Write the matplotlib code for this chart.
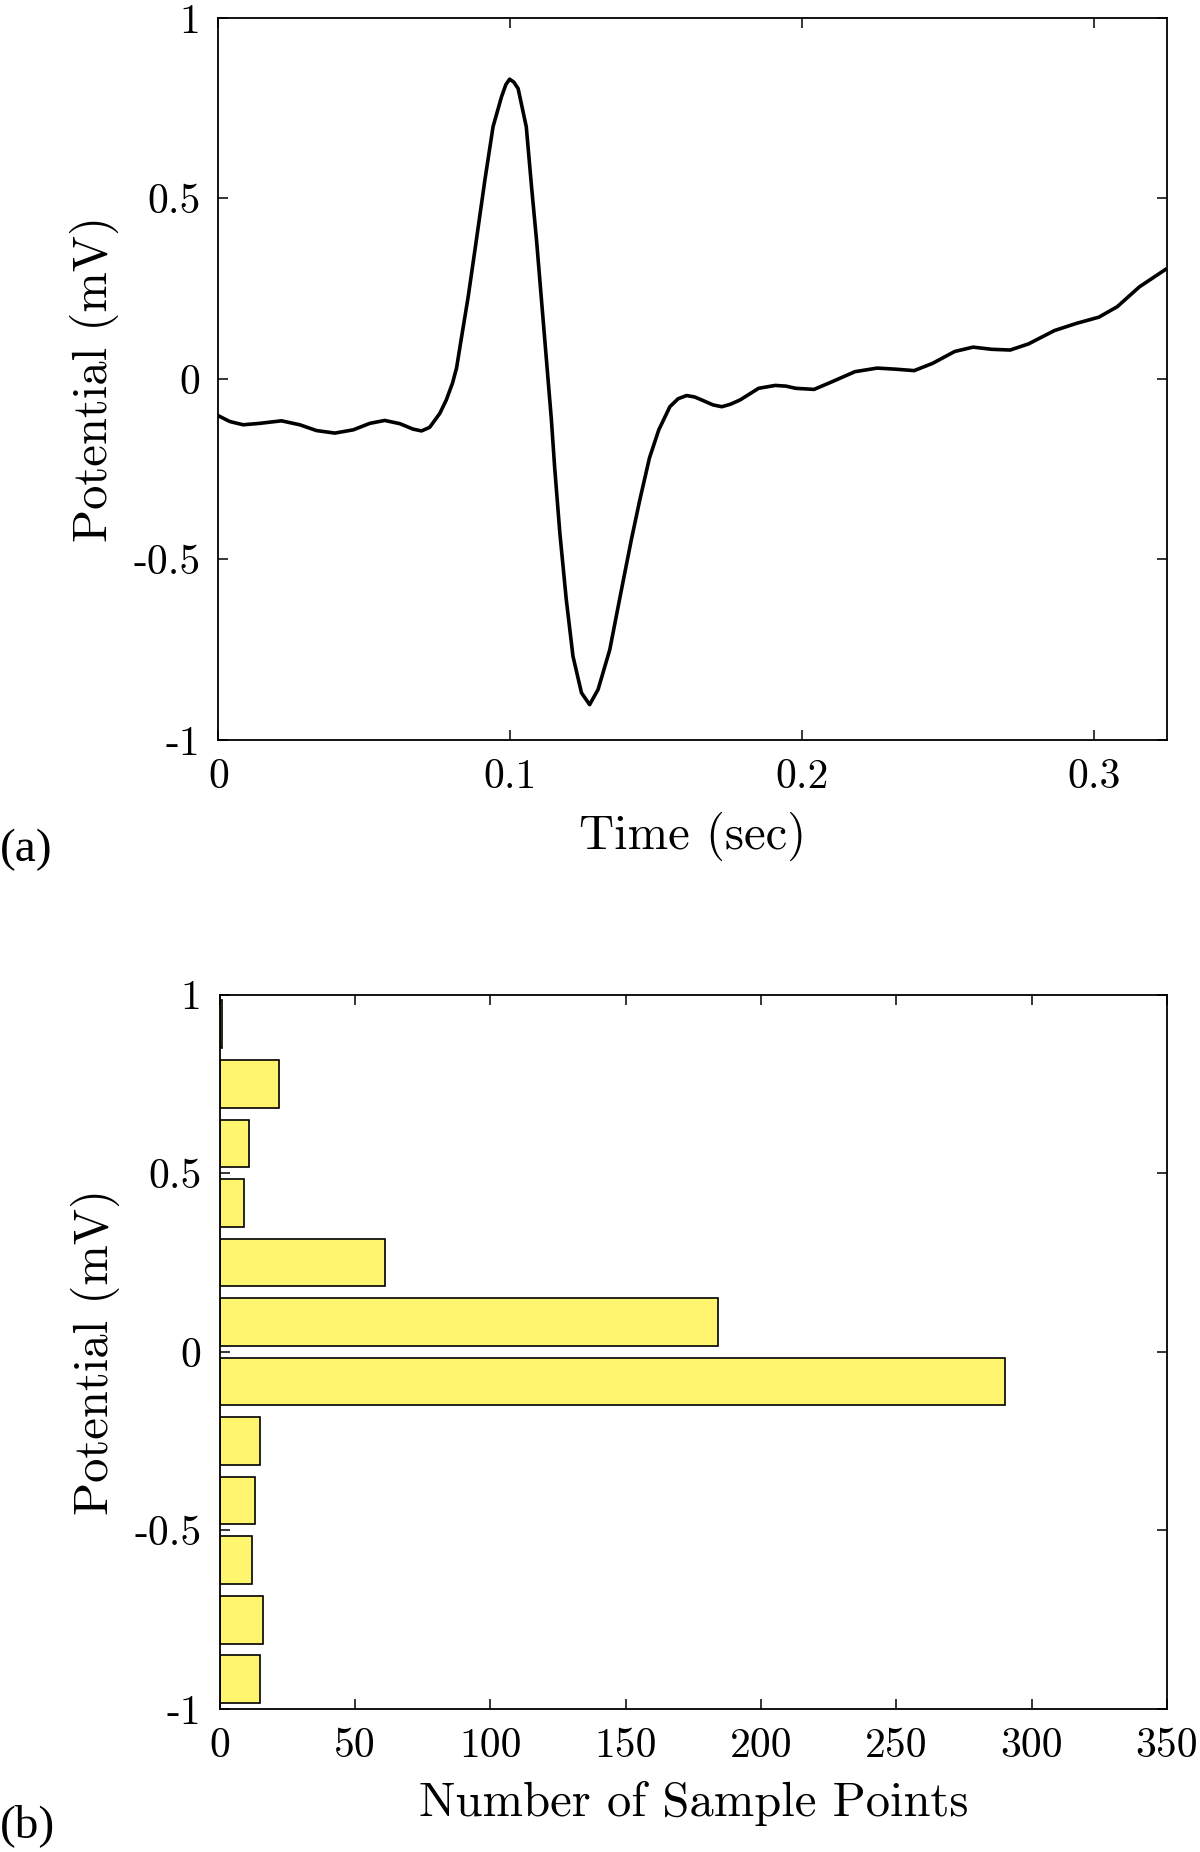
import numpy as np
import matplotlib
matplotlib.use("Agg")
import matplotlib.pyplot as plt

# ---------------- data ----------------
time_s = [0.0, 0.0039, 0.0085, 0.0142, 0.0216, 0.0279, 0.0336, 0.0399, 0.0462,
          0.0519, 0.0570, 0.0622, 0.0667, 0.0696, 0.0724, 0.0759, 0.0781, 0.0802,
          0.0816, 0.0830, 0.0856, 0.0884, 0.0913, 0.0941, 0.0970, 0.0985, 0.0998,
          0.1012, 0.1027, 0.1055, 0.1073, 0.1090, 0.1107, 0.1124, 0.1141, 0.1152,
          0.1170, 0.1192, 0.1215, 0.1244, 0.1272, 0.1301, 0.1341, 0.1381, 0.1415,
          0.1444, 0.1477, 0.1509, 0.1547, 0.1575, 0.1604, 0.1632, 0.1661, 0.1695,
          0.1725, 0.1755, 0.1788, 0.1851, 0.1908, 0.1945, 0.1978, 0.2041, 0.2105,
          0.2181, 0.2257, 0.2320, 0.2384, 0.2447, 0.2523, 0.2586, 0.2650, 0.2713,
          0.2776, 0.2865, 0.2941, 0.3017, 0.3080, 0.3156, 0.3245]
potential_mv = [-0.102, -0.118, -0.127, -0.123, -0.116, -0.127, -0.143, -0.150, -0.141,
                -0.123, -0.115, -0.124, -0.139, -0.144, -0.134, -0.095, -0.058, -0.012,
                0.030, 0.100, 0.228, 0.385, 0.550, 0.698, 0.781, 0.815, 0.830,
                0.822, 0.804, 0.698, 0.532, 0.385, 0.219, 0.053, -0.113, -0.243,
                -0.427, -0.611, -0.768, -0.869, -0.902, -0.860, -0.750, -0.584, -0.445,
                -0.335, -0.219, -0.141, -0.077, -0.055, -0.046, -0.050, -0.060, -0.072,
                -0.077, -0.070, -0.058, -0.026, -0.018, -0.020, -0.026, -0.029, -0.007,
                0.020, 0.030, 0.027, 0.023, 0.043, 0.076, 0.088, 0.082, 0.080,
                0.097, 0.134, 0.154, 0.171, 0.200, 0.255, 0.303]

bin_edges = [-1.0, -5/6, -4/6, -3/6, -2/6, -1/6, 0.0, 1/6, 2/6, 3/6, 4/6, 5/6, 1.0]
bin_counts = [15, 16, 12, 13, 15, 290, 184, 61, 9, 11, 22, 1]

top_xticks = [0, 0.1, 0.2, 0.3]
top_xticklabels = ["0", "0.1", "0.2", "0.3"]
yticks = [-1, -0.5, 0, 0.5, 1]
yticklabels = ["-1", "-0.5", "0", "0.5", "1"]
bot_xticks = [0, 50, 100, 150, 200, 250, 300, 350]
bot_xticklabels = [str(v) for v in bot_xticks]

# ---------------- style ----------------
plt.rcParams["font.family"] = ["cmr10", "DejaVu Serif"]
plt.rcParams["axes.unicode_minus"] = False
plt.rcParams["axes.linewidth"] = 1.3
FS_TICK = 30
FS_LAB = 35

fig = plt.figure(figsize=(12, 18.52), dpi=100)

def style(ax):
    ax.tick_params(direction="in", top=True, right=True, length=7, width=1.1,
                   labelsize=FS_TICK, pad=13, colors="black")

# ---------------- panel (a) ----------------
ax1 = fig.add_axes([0.182, 0.6004, 0.7904, 0.39])
ax1.plot(time_s, potential_mv, color="black", lw=2.6)
ax1.set_xlim(0, 0.325)
ax1.set_ylim(-1, 1)
ax1.set_xticks(top_xticks)
ax1.set_xticklabels(top_xticklabels)
ax1.set_yticks(yticks)
ax1.set_yticklabels(yticklabels)
style(ax1)
ax1.set_xlabel("Time (sec)", fontsize=FS_LAB, labelpad=12)
ax1.set_ylabel("Potential (mV)", fontsize=FS_LAB, labelpad=10)

# ---------------- panel (b) ----------------
ax2 = fig.add_axes([0.183, 0.0772, 0.7895, 0.3858])
edges = np.array(bin_edges)
centers = (edges[:-1] + edges[1:]) / 2
widths = np.diff(edges) * 0.8
ax2.barh(centers, bin_counts, height=widths, color="#fff56e",
         edgecolor="black", linewidth=1.2, zorder=2)
ax2.set_axisbelow(True)
ax2.set_xlim(0, 350)
ax2.set_ylim(-1, 1)
ax2.set_xticks(bot_xticks)
ax2.set_xticklabels(bot_xticklabels)
ax2.set_yticks(yticks)
ax2.set_yticklabels(yticklabels)
style(ax2)
ax2.set_xlabel("Number of Sample Points", fontsize=FS_LAB, labelpad=12)
ax2.set_ylabel("Potential (mV)", fontsize=FS_LAB, labelpad=10)

# panel letters
fig.text(0.0, 0.541, "(a)", fontsize=34, family="Liberation Serif", va="center")
fig.text(0.0, 0.014, "(b)", fontsize=34, family="Liberation Serif", va="center")

fig.savefig("out.png", dpi=100)
